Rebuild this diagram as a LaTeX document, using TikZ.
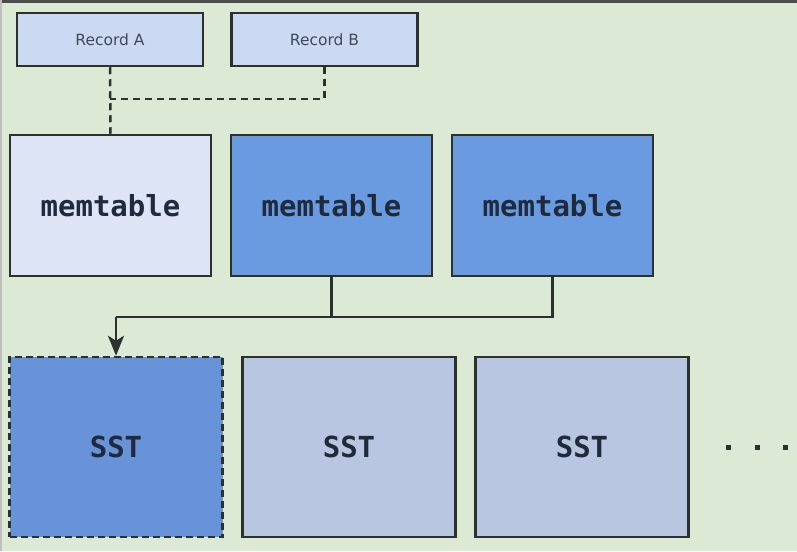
\documentclass[tikz,border=0pt]{standalone}
\usepackage{fontspec}
\setmainfont{DejaVu Sans}
\newfontfamily\monofnt{DejaVu Sans Mono}
\usetikzlibrary{arrows.meta}
\definecolor{bgc}{HTML}{DBE9D5}
\definecolor{edgec}{HTML}{2B312C}
\definecolor{recfill}{HTML}{CCD9F2}
\definecolor{memlight}{HTML}{DCE4F6}
\definecolor{memdark}{HTML}{6A9BE0}
\definecolor{sstdark}{HTML}{6893D8}
\definecolor{sstlight}{HTML}{B8C6E2}
\definecolor{txtc}{HTML}{1F2A3C}
\definecolor{rectxt}{HTML}{3E4A5C}
\tikzset{
  box/.style={draw=edgec, line width=2.5pt, rectangle, inner sep=0pt},
  recbox/.style={box, fill=recfill, minimum width=186pt, minimum height=53pt, font=\fontsize{15.5}{18}\selectfont, text=rectxt},
  membox/.style={box, minimum width=201pt, minimum height=141pt, font=\monofnt\bfseries\fontsize{29}{32}\selectfont, text=txtc},
  sstbox/.style={box, minimum width=213pt, minimum height=180pt, font=\monofnt\bfseries\fontsize{29}{32}\selectfont, text=txtc},
  link/.style={draw=edgec, line width=2.5pt},
  dotmark/.style={fill=edgec, minimum size=5pt, inner sep=0pt, rectangle}
}
\begin{document}
\begin{tikzpicture}[x=1pt,y=-1pt]
\fill[bgc] (0,0) rectangle (797,551);
\useasboundingbox (0,0) rectangle (797,551);
\fill[gray!60!black] (0,0) rectangle (797,3);
\fill[gray!50] (0,0) rectangle (2,551);
\node[recbox] (ra) at (110,39.5) {Record A};
\node[recbox] (rb) at (324.5,39.5) {Record B};
\node[membox, fill=memlight] (m1) at (110.5,205.5) {memtable};
\node[membox, fill=memdark] (m2) at (331.5,205.5) {memtable};
\node[membox, fill=memdark] (m3) at (552.5,205.5) {memtable};
\node[sstbox, fill=sstdark, dashed, dash pattern=on 7pt off 4pt] (s1) at (116,447) {SST};
\node[sstbox, fill=sstlight] (s2) at (349,447) {SST};
\node[sstbox, fill=sstlight] (s3) at (582,447) {SST};
\node[dotmark] (d1) at (728,447) {};
\node[dotmark] (d2) at (757,447) {};
\node[dotmark] (d3) at (785,447) {};
\coordinate (j) at (110,99);
\draw[link, dashed, dash pattern=on 7pt off 5pt] (ra.south) -- (m1.north);
\draw[link, dashed, dash pattern=on 7pt off 5pt] (rb.south) |- (j);
\coordinate (h) at (116,317);
\draw[link] (m2.south) |- (h);
\draw[link] (m3.south) |- (h);
\draw[link, -{Stealth[length=20pt,width=16pt,inset=5pt]}] (h) -- (s1.north);
\end{tikzpicture}
\end{document}
